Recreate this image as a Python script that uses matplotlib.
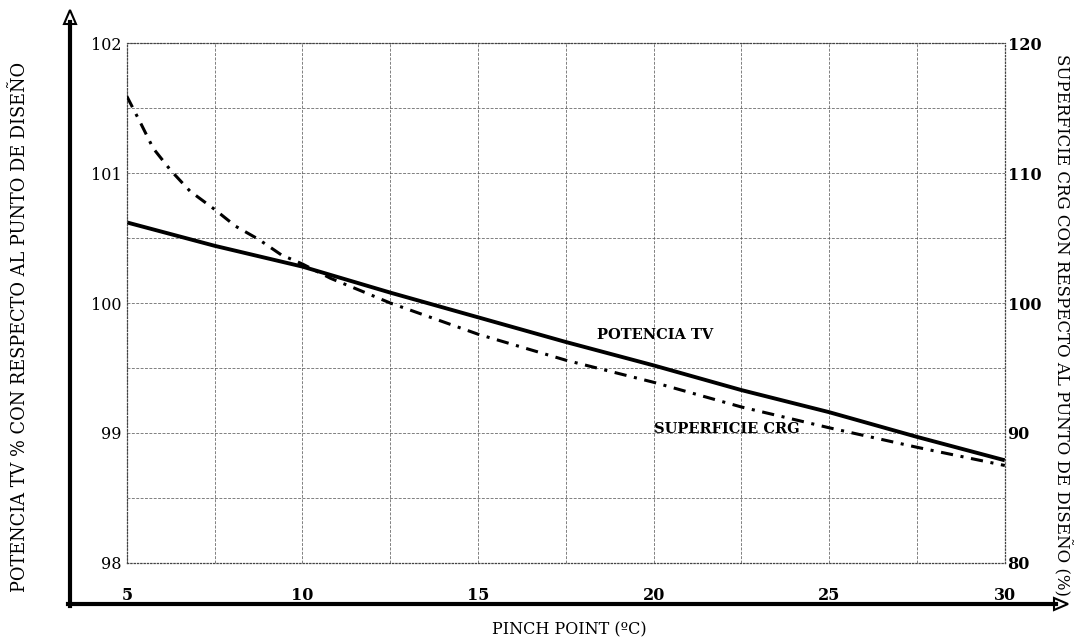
import matplotlib
matplotlib.use("Agg")
import matplotlib.pyplot as plt
from matplotlib.lines import Line2D
from matplotlib.patches import Polygon
import numpy as np

# Data
pinch_tv = [5, 7.5, 10, 12.5, 15, 17.5, 20, 22.5, 25, 27.5, 30]
potencia_tv = [100.62, 100.44, 100.28, 100.08, 99.89, 99.70, 99.52, 99.33, 99.16, 98.97, 98.79]

pinch_crg = [5, 5.4, 5.75, 6.25, 6.8, 7.5, 8.1, 8.75, 9.4, 10, 10.8, 11.7, 12.5,
             15, 17.5, 20, 22.5, 25, 27.5, 30]
superficie_crg = [115.9, 113.8, 111.9, 110.2, 108.6, 107.2, 105.9, 104.9, 103.7, 103.0,
                  101.9, 100.9, 100.0, 97.6, 95.6, 93.9, 92.0, 90.4, 88.9, 87.5]

x_ticks = [5, 10, 15, 20, 25, 30]
left_ticks = [98, 99, 100, 101, 102]
right_ticks = [80, 90, 100, 110, 120]

FONT = "DejaVu Serif"
plt.rcParams['font.family'] = [FONT, 'Liberation Serif']

fig = plt.figure(figsize=(10.75, 6.44), dpi=100)
ax = fig.add_axes([0.118, 0.1258, 0.8167, 0.8074])
ax.set_xlim(5, 30)
ax.set_ylim(98, 102)

ax.set_xticks(np.arange(5, 30.01, 2.5), minor=True)
ax.set_yticks(np.arange(98, 102.01, 0.5), minor=True)
ax.set_xticks(x_ticks)
ax.set_yticks(left_ticks)
ax.set_xticklabels([str(v) for v in x_ticks], fontsize=11.5, fontweight='bold')
ax.set_yticklabels([str(v) for v in left_ticks], fontsize=11.5)
ax.grid(True, which='both', color='#555555', linestyle=(0, (3, 1.5)), linewidth=0.7, alpha=0.75)
ax.tick_params(which='both', length=0)
ax.tick_params(axis='x', pad=17)
ax.tick_params(axis='y', pad=4)
for s in ax.spines.values():
    s.set_linestyle(':')
    s.set_linewidth(0.9)
    s.set_color('#444444')

ax.plot(pinch_tv, potencia_tv, color='black', linewidth=2.8, solid_capstyle='butt')

ax2 = ax.twinx()
ax2.set_ylim(80, 120)
ax2.set_yticks(right_ticks)
ax2.set_yticklabels([str(v) for v in right_ticks], fontsize=11.5, fontweight='bold')
ax2.tick_params(length=0, pad=2)
for s in ax2.spines.values():
    s.set_visible(False)
ax2.plot(pinch_crg, superficie_crg, color='black', linewidth=2.2,
         linestyle=(0, (4, 2.5, 1, 2.5)))

ax.text(18.4, 99.75, "POTENCIA TV", fontsize=10.5, fontweight='bold', ha='left', va='center')
ax.text(20.0, 99.03, "SUPERFICIE CRG", fontsize=10.5, fontweight='bold', ha='left', va='center')

fig.text(0.019, 0.492, "POTENCIA TV % CON RESPECTO AL PUNTO DE DISEÑO", rotation=90,
         fontsize=12.8, ha='center', va='center')
fig.text(0.988, 0.495, "SUPERFICIE CRG CON RESPECTO AL PUNTO DE DISEÑO (%)", rotation=270,
         fontsize=12, ha='center', va='center')
fig.text(0.53, 0.022, "PINCH POINT (ºC)", fontsize=11.5, ha='center', va='center')

# Outer axis arrows (figure pixel coordinates, origin bottom-left)
W, H = 1075, 644
def fx(px):
    return px / W
def fy(py):
    return 1 - py / H

fig.add_artist(Line2D([fx(70), fx(70)], [fy(606), fy(22)], color='black', lw=3,
                      transform=fig.transFigure))
fig.add_artist(Line2D([fx(68), fx(1056)], [fy(604), fy(604)], color='black', lw=3,
                      transform=fig.transFigure))
fig.add_artist(Polygon([[fx(64), fy(24)], [fx(76), fy(24)], [fx(70), fy(10)]], closed=True,
                       facecolor='white', edgecolor='black', lw=1.5, transform=fig.transFigure))
fig.add_artist(Polygon([[fx(1054), fy(598)], [fx(1054), fy(610)], [fx(1068), fy(604)]], closed=True,
                       facecolor='white', edgecolor='black', lw=1.5, transform=fig.transFigure))

fig.savefig("out.png", dpi=100)
